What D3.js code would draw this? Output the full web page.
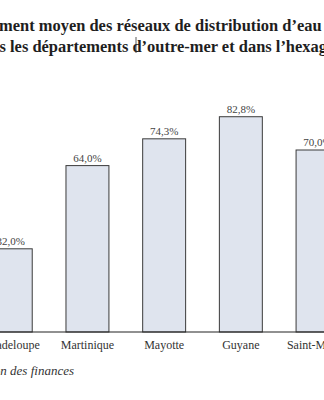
<!DOCTYPE html>
<html>
<head>
<meta charset="utf-8">
<script src="https://cdn.jsdelivr.net/npm/d3@7"></script>
<style>
  html, body { margin: 0; padding: 0; background: #fff; overflow: hidden; }
  svg { display: block; }
</style>
</head>
<body>
<script>
// Rendement des réseaux de distribution d'eau potable (%)
const categories = ["Guadeloupe", "Martinique", "Mayotte", "Guyane", "Saint-Martin"];
const values = [32.0, 64.0, 74.3, 82.8, 70.0];
const valueLabels = ["32,0%", "64,0%", "74,3%", "82,8%", "70,0%"];
const titleLines = [
  "Rendement moyen des réseaux de distribution d’eau potable",
  "dans les départements d’outre-mer et dans l’hexagone"
];
const sourceText = "Source : commission des finances";

const W = 324, H = 400;
const serif = "'Liberation Serif', 'Times New Roman', serif";

const svg = d3.select("body").append("svg")
  .attr("width", W).attr("height", H);

svg.append("rect").attr("width", W).attr("height", H).attr("fill", "#fff");

const baseY = 332;
const y = d3.scaleLinear().domain([0, 100]).range([baseY, 72]);
const x = d3.scaleBand().domain(categories)
  .range([-27.6, 355.9]).paddingInner(0.44).paddingOuter(0.22);

// Title: two bold lines, sized and placed from measured text
const title = svg.append("g").attr("font-family", serif).attr("font-weight", "bold").attr("fill", "#1e1e1e");
function measure(str, size) {
  const t = title.append("text").attr("font-size", size).text(str);
  const w = t.node().getComputedTextLength();
  t.remove();
  return w;
}
const fitPart = "ment moyen des réseaux de distribution d’eau";
const fontSize = 17 * 323 / measure(fitPart, 17);
const line1X = -1 - measure("Rende", fontSize);
const line2X = -0.5 - measure("dan", fontSize);
title.append("text").attr("font-size", fontSize).attr("x", line1X).attr("y", 31).text(titleLines[0]);
title.append("text").attr("font-size", fontSize).attr("x", line2X).attr("y", 51.5).text(titleLines[1]);

// text caret left in the title
svg.append("line").attr("x1", 136).attr("x2", 136).attr("y1", 37).attr("y2", 53)
  .attr("stroke", "#333").attr("stroke-width", 0.8);

// Bars
svg.append("g").selectAll("rect").data(categories).join("rect")
  .attr("x", d => x(d))
  .attr("y", (d, i) => y(values[i]))
  .attr("width", x.bandwidth())
  .attr("height", (d, i) => baseY - y(values[i]))
  .attr("fill", "#dfe4ee")
  .attr("stroke", "#3a3a3a")
  .attr("stroke-width", 1);

// Value labels
svg.append("g").selectAll("text").data(categories).join("text")
  .attr("x", d => x(d) + x.bandwidth() / 2)
  .attr("y", (d, i) => y(values[i]) - 4)
  .attr("text-anchor", "middle")
  .attr("font-family", serif)
  .attr("font-size", 11)
  .attr("fill", "#444")
  .text((d, i) => valueLabels[i]);

// Category axis
const axis = svg.append("g").attr("transform", `translate(0,${baseY})`)
  .call(d3.axisBottom(x).tickSize(0).tickPadding(8));
axis.select(".domain").attr("stroke", "#222").attr("stroke-width", 1.2)
  .attr("d", `M${x.range()[0]},0H${x.range()[1]}`);
axis.selectAll(".tick text")
  .attr("font-family", serif).attr("font-size", 12).attr("fill", "#333")
  .attr("dy", "0.71em");

// Source
svg.append("text")
  .attr("x", 74).attr("y", 375)
  .attr("text-anchor", "end")
  .attr("font-family", serif).attr("font-style", "italic")
  .attr("font-size", 13).attr("fill", "#333")
  .text(sourceText);
</script>
</body>
</html>
